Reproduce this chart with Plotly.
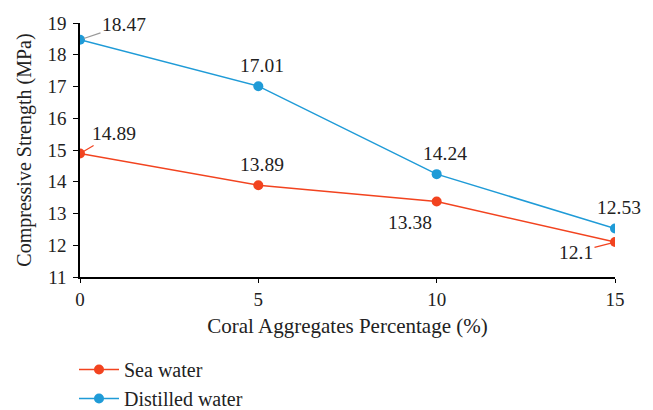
import plotly.graph_objects as go

# Daten
coral_pct = [0, 5, 10, 15]
sea_water = [14.89, 13.89, 13.38, 12.1]
distilled_water = [18.47, 17.01, 14.24, 12.53]

red = '#F2431F'
blue = '#1F9BD7'
font_fam = 'Liberation Serif, Times New Roman, serif'
W, H = 653, 410

fig = go.Figure()
fig.add_trace(go.Scatter(x=coral_pct, y=sea_water, mode='lines+markers', name='Sea water',
                         line=dict(color=red, width=1.5), marker=dict(color=red, size=10)))
fig.add_trace(go.Scatter(x=coral_pct, y=distilled_water, mode='lines+markers', name='Distilled water',
                         line=dict(color=blue, width=1.5), marker=dict(color=blue, size=10)))

# Beschriftungen (Offsets in Pixel: dx nach rechts, dy nach unten)
labels = [
    (coral_pct[0], distilled_water[0], 44, -15, '#999999'),
    (coral_pct[1], distilled_water[1], 4, -21, None),
    (coral_pct[2], distilled_water[2], 8, -21, None),
    (coral_pct[3], distilled_water[3], 4, -21, None),
    (coral_pct[0], sea_water[0], 34, -20, red),
    (coral_pct[1], sea_water[1], 4, -21, None),
    (coral_pct[2], sea_water[2], -27, 21, None),
    (coral_pct[3], sea_water[3], -39, 10, red),
]
for x, y, dx, dy, leader in labels:
    if leader:
        fig.add_annotation(x=x, y=y, text=f'{y:g}', showarrow=True, ax=dx, ay=dy,
                           arrowhead=0, arrowwidth=1.2, arrowcolor=leader, standoff=4,
                           font=dict(size=19.5, color='#222222', family=font_fam))
    else:
        fig.add_annotation(x=x, y=y, text=f'{y:g}', showarrow=False, xshift=dx, yshift=-dy,
                           font=dict(size=19.5, color='#222222', family=font_fam))

# Plotfläche über Achsen-Domains statt Ränder, damit die Legende nichts verschiebt
# (die Seite hat 8px Body-Rand, daher alles um 8px nach links/oben)
fig.update_layout(
    width=W, height=H,
    margin=dict(l=0, r=0, t=0, b=0),
    plot_bgcolor='white', paper_bgcolor='white',
    font=dict(family=font_fam, size=19, color='#222222'),
    showlegend=True,
    legend=dict(x=66 / W, y=0, xanchor='left', yanchor='bottom', font=dict(size=20),
                tracegroupgap=0, itemwidth=40, bgcolor='rgba(0,0,0,0)'),
)
fig.update_xaxes(range=[0, 15], tickvals=coral_pct, showline=True, linecolor='black', linewidth=1.5,
                 ticks='outside', ticklen=4, tickcolor='black', showgrid=False, zeroline=False,
                 automargin=False, domain=[72 / W, 607 / W],
                 title=dict(text='Coral Aggregates Percentage (%)', standoff=10, font=dict(size=21)))
fig.update_yaxes(range=[11, 19], dtick=1, showline=True, linecolor='black', linewidth=1.5,
                 ticks='outside', ticklen=5, tickcolor='black', showgrid=False, zeroline=False,
                 automargin=False, ticklabelstandoff=3, domain=[1 - 269 / H, 1 - 15 / H],
                 title=dict(text='Compressive Strength (MPa)', standoff=10, font=dict(size=20)))

fig.write_html('out.html')
